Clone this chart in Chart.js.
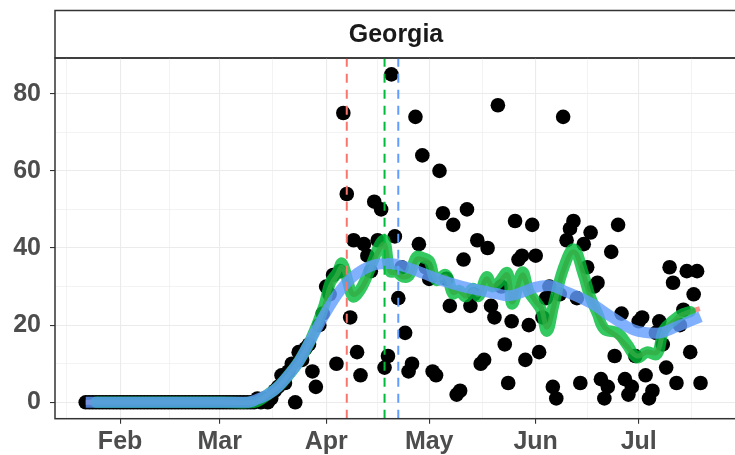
<!DOCTYPE html>
<html>
<head>
<meta charset="utf-8">
<script src="https://cdn.jsdelivr.net/npm/chart.js@4/dist/chart.umd.min.js"></script>
<style>
  html, body { margin: 0; padding: 0; background: #fff; overflow: hidden; }
  #wrap { width: 735px; height: 455px; overflow: hidden; }
</style>
</head>
<body>
<div id="wrap"><canvas id="chart" width="770" height="455"></canvas></div>
<script>
// day 0 = Jan 22 2020, one value per day
const stateName = 'Georgia';
const deaths = [
  0,0,0,0,0,0,0,0,0,0, 0,0,0,0,0,0,0,0,0,0,
  0,0,0,0,0,0,0,0,0,0, 0,0,0,0,0,0,0,0,0,0,
  0,0,0,0,0,0,0,0,0,0,
  1,0,1,0,1,3,4,7,5,8,
  10,0,13,11,14,15,8,4,20,23,
  30,28,33,10,34,75,54,22,42,13,
  7,41,38,34,52,42,50,9,12,85,
  43,27,35,18,8,10,74,41,64,35,
  32,8,7,60,49,32,25,46,2,3,
  37,50,25,28,42,10,11,40,25,22,
  77,30,15,5,21,47,37,38,11,20,
  46,38,13,22,27,30,4,1,28,74,
  42,45,47,27,5,41,35,44,30,31,
  6,1,4,39,12,46,23,6,2,4,
  12,21,22,7,1,3,18,21,15,9,
  35,31,5,20,24,34,13,28,34,5
];

const greenDays = [3, 20, 40, 49, 51, 53, 56, 59, 62, 65.4, 69.4, 71.2, 73.2, 74.6, 76.4, 77.8, 79.8, 81.8, 83.8, 85.7, 87, 88.6, 90.5, 92.4, 94.2, 96.3, 98, 100, 102, 104.9, 106.9, 108.6, 110.7, 112.7, 114.4, 116.7, 118.4, 120.2, 122.8, 124.2, 127.1, 129.1, 131.1, 132.6, 134.3, 136.3, 139.2, 142.1, 144.8, 146.7, 149, 151, 154.8, 157.6, 160.5, 163.4, 166.3, 168.3, 171.2, 173.2, 176];
const greenValues = [0, 0, 0, 0, 0.8, 2, 4, 7, 10.5, 16, 25, 31, 33.5, 36, 31, 27.4, 29, 32.5, 37, 41, 42, 34, 33.8, 32.5, 33, 37.7, 37.5, 36.6, 31.7, 33, 28.2, 29, 27.4, 29.5, 27.5, 32.5, 30, 31, 33.5, 25.5, 33.7, 28.5, 26, 24, 18.5, 25.5, 35, 39.7, 33.5, 27.8, 23, 19, 18, 15, 11.6, 13, 12.5, 18.7, 21.3, 22.6, 23.5];

const redDays = [0, 20, 40, 49, 51, 53, 56, 59, 62, 65.4, 69.4, 71.2, 73.2, 74.6, 76.4, 77.8, 79.8, 81.8, 83.8, 85.7, 87, 88.6, 90.5, 92.4, 94.2, 96.3, 98, 100, 102, 104.9, 106.9, 108.6, 110.7, 112.7, 114.4, 116.7, 118.4, 120.2, 122.8, 124.2, 127.1, 129.1, 131.1, 132.6, 134.3, 136.3, 139.2, 142.1, 144.8, 146.7, 149, 151, 154.8, 157.6, 160.5, 163.4, 166.3, 168.3, 171.2, 173.2, 176, 178.8];
const redValues = [0, 0, 0, 0, 0.8, 2, 4, 7, 10.5, 16, 24.5, 30, 33, 35, 31, 28, 29, 32, 36.5, 40, 41, 34, 33.5, 32.5, 33, 37, 37, 36, 32, 32.5, 28.5, 29, 27.5, 29, 28, 32, 30, 31, 33, 26, 33, 29, 26, 24.5, 19.5, 25, 34.5, 39, 33.5, 28, 23, 19.5, 17, 14.5, 12, 13, 13, 18.5, 21, 22.5, 23.5, 24.3];

const blueDays = [0, 20, 40, 47, 50, 53, 56, 59, 62, 65.4, 69.4, 74.1, 79, 83.9, 88.5, 93.4, 98.3, 104, 109.8, 115, 119.3, 123, 127, 130.8, 134.6, 140.3, 147.3, 153, 159.7, 166.3, 172.1, 179];
const blueValues = [0, 0, 0, 0, 0.8, 2, 4, 7, 10.5, 16, 22.5, 29, 33.4, 35.6, 36, 35, 33.4, 31.5, 30, 29, 28.2, 27.6, 28.5, 29.8, 30.3, 28.5, 25.6, 22.2, 18.7, 17.9, 19.6, 22.2];

// tick labels
const monthDays = [10, 39, 70, 100, 131, 161];
const monthNames = ['Feb', 'Mar', 'Apr', 'May', 'Jun', 'Jul'];
const minorDays = [-5.5, 24.5, 54.5, 85, 115.5, 146, 176.5];
const yMajor = [0, 20, 40, 60, 80];
const yMinor = [10, 30, 50, 70];

// vertical dashed markers
const markerDays = [76, 87, 91];
const markerColors = ['#F8766D', '#00BA38', '#619CFF'];

const pts = (xs, ys) => xs.map((x, i) => ({ x: x, y: ys[i] }));
const font = { family: '"Liberation Sans", Arial, sans-serif', size: 25, weight: 'bold' };

const panelDeco = {
  id: 'panelDeco',
  beforeDraw(chart) {
    const { ctx, chartArea: a } = chart;
    ctx.save();
    ctx.fillStyle = '#fff';
    ctx.fillRect(0, 0, chart.width, chart.height);
    ctx.strokeStyle = '#333';
    ctx.lineWidth = 1.5;
    ctx.strokeRect(a.left, 10.5, chart.width, a.top - 10.5);
    ctx.fillStyle = '#1a1a1a';
    ctx.font = 'bold 25px "Liberation Sans", Arial, sans-serif';
    ctx.textAlign = 'center';
    ctx.textBaseline = 'middle';
    ctx.fillText(stateName, 396, 35);
    ctx.restore();
  },
  afterDatasetsDraw(chart) {
    const { ctx, chartArea: a, scales } = chart;
    ctx.save();
    ctx.lineWidth = 2;
    ctx.setLineDash([9, 7]);
    markerDays.forEach((d, i) => {
      const x = scales.x.getPixelForValue(d);
      ctx.strokeStyle = markerColors[i];
      ctx.beginPath();
      ctx.moveTo(x, a.bottom);
      ctx.lineTo(x, a.top);
      ctx.stroke();
    });
    ctx.restore();
  },
  afterDraw(chart) {
    const { ctx, chartArea: a } = chart;
    ctx.save();
    ctx.strokeStyle = '#333';
    ctx.lineWidth = 1.5;
    ctx.strokeRect(a.left, a.top, chart.width, a.bottom - a.top);
    ctx.restore();
  }
};

new Chart(document.getElementById('chart'), {
  type: 'scatter',
  data: {
    datasets: [
      {
        type: 'line', label: 'loess', data: pts(blueDays, blueValues), order: 1,
        borderColor: 'rgba(97,156,255,0.8)', borderWidth: 11, pointRadius: 0,
        cubicInterpolationMode: 'monotone', showLine: true, borderCapStyle: 'butt'
      },
      {
        type: 'line', label: 'avg', data: pts(greenDays, greenValues), order: 2,
        borderColor: 'rgba(0,186,56,0.8)', borderWidth: 11.5, pointRadius: 0,
        tension: 0.4, showLine: true, borderCapStyle: 'round', borderJoinStyle: 'round'
      },
      {
        type: 'line', label: 'raw avg', data: pts(redDays, redValues), order: 3,
        borderColor: 'rgba(248,118,109,0.8)', borderWidth: 5, pointRadius: 0,
        tension: 0.4, showLine: true
      },
      {
        label: 'deaths', data: deaths.map((v, i) => ({ x: i, y: v })), order: 4,
        backgroundColor: '#000', borderWidth: 0, pointRadius: 7.3, pointHoverRadius: 7.3
      }
    ]
  },
  options: {
    responsive: false,
    animation: false,
    layout: { padding: { top: 58, left: 0, right: 0, bottom: 0 } },
    plugins: { legend: { display: false }, tooltip: { enabled: false } },
    scales: {
      x: {
        // chart area runs past the 735px window, like the cut-off panel
        type: 'linear', min: -8.95, max: -8.95 + 715 / 3.47,
        afterBuildTicks: s => { s.ticks = [...monthDays, ...minorDays].sort((a, b) => a - b).map(v => ({ value: v })); },
        afterFit: s => { s.height = 36.3; },
        ticks: {
          autoSkip: false, maxRotation: 0, padding: 3, color: '#4D4D4D', font: font,
          callback: v => { const i = monthDays.indexOf(v); return i >= 0 ? monthNames[i] : ''; }
        },
        grid: {
          color: '#EBEBEB',
          lineWidth: c => monthDays.includes(c.tick.value) ? 1.1 : 0.6,
          tickColor: c => monthDays.includes(c.tick.value) ? '#333' : 'rgba(0,0,0,0)',
          tickLength: 5, tickWidth: 1.1
        },
        border: { display: false }
      },
      y: {
        min: -4.25, max: 89.25,
        afterBuildTicks: s => { s.ticks = [...yMajor, ...yMinor].sort((a, b) => a - b).map(v => ({ value: v })); },
        afterFit: s => { s.width = 55; },
        ticks: {
          padding: 9, color: '#4D4D4D', font: font,
          callback: v => yMajor.includes(v) ? String(v) : ''
        },
        grid: {
          color: '#EBEBEB',
          lineWidth: c => yMajor.includes(c.tick.value) ? 1.1 : 0.6,
          tickColor: c => yMajor.includes(c.tick.value) ? '#333' : 'rgba(0,0,0,0)',
          tickLength: 5, tickWidth: 1.1
        },
        border: { display: false }
      }
    }
  },
  plugins: [panelDeco]
});
</script>
</body>
</html>
